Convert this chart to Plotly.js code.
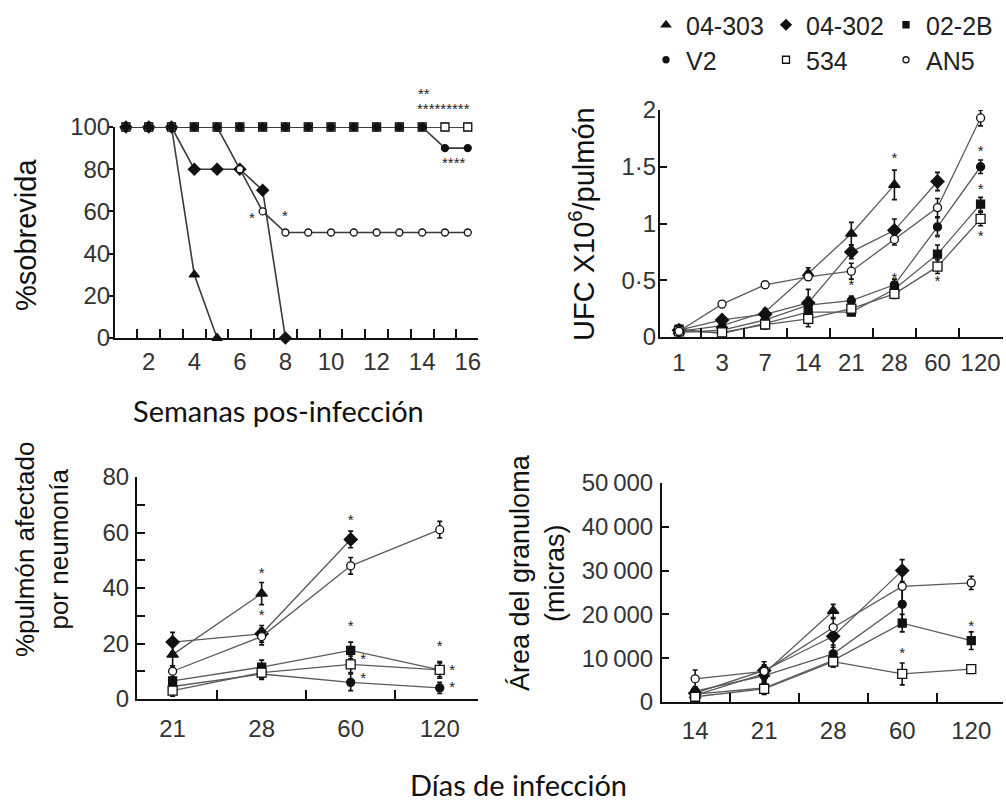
<!DOCTYPE html>
<html><head><meta charset="utf-8">
<script src="https://cdn.plot.ly/plotly-3.0.1.min.js"></script>
<style>html,body{margin:0;padding:0;background:#fff}#chart{width:1006px;height:802px}</style>
</head><body><div id="chart"></div>
<script>
// ---------- DATA ----------
const seriesNames = ['04-303','04-302','02-2B','V2','534','AN5'];

// Panel A: survival (%) per week
const weeks = [1,2,3,4,5,6,7,8,9,10,11,12,13,14,15,16];
const surv_04303 = [100,100,100,30,0,null,null,null,null,null,null,null,null,null,null,null];
const surv_04302 = [100,100,100,80,80,80,70,0,null,null,null,null,null,null,null,null];
const surv_022B  = [100,100,100,100,100,100,100,100,100,100,100,100,100,100,100,100];
const surv_V2    = [100,100,100,100,100,100,100,100,100,100,100,100,100,100,90,90];
const surv_534   = [100,100,100,100,100,100,100,100,100,100,100,100,100,100,100,100];
const surv_AN5   = [100,100,100,100,100,80,60,50,50,50,50,50,50,50,50,50];
const survSigX = [6.55, 8, 14.1, 14.95, 15.4];
const survSigY = [57, 58, 116, 109, 83];
const survSigText = ['*','*','**','*********','****'];

// Panel B: UFC x10^6 / pulmón
const daysB = ['1','3','7','14','21','28','60','120'];
const ufc_04303 = [0.05,0.10,0.22,0.56,0.91,1.34,null,null];
const ufc_04302 = [0.06,0.15,0.20,0.30,0.75,0.94,1.37,null];
const ufc_022B  = [0.07,0.03,0.12,0.22,0.22,0.42,0.73,1.17];
const ufc_V2    = [0.04,0.06,0.15,0.28,0.32,0.46,0.97,1.50];
const ufc_534   = [0.05,0.04,0.11,0.16,0.25,0.38,0.62,1.04];
const ufc_AN5   = [0.05,0.29,0.46,0.53,0.58,0.86,1.14,1.93];
const ufcErr_04303 = [0.03,0.02,0.03,0.05,0.10,0.13,null,null];
const ufcErr_04302 = [0.03,0.03,0.03,0.12,0.06,0.10,0.08,null];
const ufcErr_022B  = [0.03,0.02,0.03,0.13,0.03,0.05,0.08,0.06];
const ufcErr_V2    = [0.06,0.03,0.03,0.04,0.04,0.05,0.08,0.06];
const ufcErr_534   = [0.03,0.02,0.04,0.04,0.03,0.04,0.06,0.06];
const ufcErr_AN5   = [0.03,0.03,0.03,0.03,0.07,0.05,0.08,0.07];
const ufcSigX = ['21','28','28','60','60','120','120','120'];
const ufcSigY = [0.45,1.57,0.51,0.86,0.48,1.63,1.29,0.88];

// Panel C: % pulmón afectado por neumonía
const daysC = ['21','28','60','120'];
const neu_04303 = [16,38,null,null];
const neu_04302 = [20.5,23.5,57.5,null];
const neu_022B  = [6.5,11.5,17.5,10.5];
const neu_V2    = [4.5,9,6,4];
const neu_534   = [3,9.5,12.5,10.5];
const neu_AN5   = [10,22.5,48,61];
const neuErr_04303 = [4,4,null,null];
const neuErr_04302 = [3.5,3,3,null];
const neuErr_022B  = [2.5,2.5,3,2.5];
const neuErr_V2    = [2,2,3,2];
const neuErr_534   = [2,2,3,3];
const neuErr_AN5   = [2,3,3,3];
const neuSigX = ['28','28','60','60','60','60','120','120','120'];
const neuSigY = [45,30,64,26,14,7,18.5,10,4];
const neuSigOff = [0,0,0,0,1,1,0,1,1];

// Panel D: área del granuloma (micras)
const daysD = ['14','21','28','60','120'];
const gra_04303 = [1500,6500,20800,null,null];
const gra_04302 = [2000,7200,15000,30000,null];
const gra_022B  = [1800,3200,9500,18000,14000];
const gra_V2    = [2500,6000,11000,22300,null];
const gra_534   = [1200,3000,9200,6400,7500];
const gra_AN5   = [5300,7000,17000,26400,27200];
const graErr_04303 = [1000,1500,1500,null,null];
const graErr_04302 = [1200,2000,2500,2500,null];
const graErr_022B  = [1000,1500,1500,2000,2000];
const graErr_V2    = [1000,1500,2000,3500,null];
const graErr_534   = [800,1200,1200,2500,600];
const graErr_AN5   = [2000,1500,2000,4000,1500];
const graSigX = ['60','120'];
const graSigY = [10800,17000];

// ---------- STYLES ----------
const sty = {
  '04-303': {symbol:'triangle-up', color:'#111', size:10},
  '04-302': {symbol:'diamond', color:'#111', size:10},
  '02-2B':  {symbol:'square', color:'#111', size:8},
  'V2':     {symbol:'circle', color:'#111', size:8},
  '534':    {symbol:'square', color:'#fff', size:9},
  'AN5':    {symbol:'circle', color:'#fff', size:8}
};
const LINE = '#5a5a5a';
function trace(name, x, y, err, xa, ya, opt){
  const s = sty[name];
  opt = opt || {};
  const t = {
    type:'scatter', mode:'lines+markers', name:name, x:x, y:y,
    xaxis:xa, yaxis:ya, showlegend:false, cliponaxis:false,
    line:{color:opt.lineColor || LINE, width:opt.lineWidth || 1.3},
    marker:{symbol:s.symbol, color:s.color, size:s.size - (opt.shrink || 0), line:{color:'#111', width:1.3}}
  };
  if (err) t.error_y = {type:'data', array:err, color:'#111', thickness:1.6, width:2.5};
  return t;
}
const traces = [];
// panel A (draw order keeps filled markers on top of the 100 % line)
[['04-303',surv_04303],['04-302',surv_04302],['AN5',surv_AN5],['02-2B',surv_022B],['534',surv_534],['V2',surv_V2]]
  .forEach(([n,v])=>traces.push(trace(n, weeks, v, null, 'x','y', {lineColor:'#3a3a3a', lineWidth:1.6, shrink:1})));
// panel B
[['04-303',ufc_04303,ufcErr_04303],['04-302',ufc_04302,ufcErr_04302],['02-2B',ufc_022B,ufcErr_022B],['V2',ufc_V2,ufcErr_V2],['534',ufc_534,ufcErr_534],['AN5',ufc_AN5,ufcErr_AN5]]
  .forEach(([n,v,e])=>traces.push(trace(n, daysB, v, e, 'x2','y2')));
// panel C
[['04-303',neu_04303,neuErr_04303],['04-302',neu_04302,neuErr_04302],['02-2B',neu_022B,neuErr_022B],['V2',neu_V2,neuErr_V2],['534',neu_534,neuErr_534],['AN5',neu_AN5,neuErr_AN5]]
  .forEach(([n,v,e])=>traces.push(trace(n, daysC, v, e, 'x3','y3')));
// panel D
[['04-303',gra_04303,graErr_04303],['04-302',gra_04302,graErr_04302],['02-2B',gra_022B,graErr_022B],['V2',gra_V2,graErr_V2],['534',gra_534,graErr_534],['AN5',gra_AN5,graErr_AN5]]
  .forEach(([n,v,e])=>traces.push(trace(n, daysD, v, e, 'x4','y4')));

// significance asterisks (in-range ones as text traces)
const sigFont = {family:'Liberation Sans, Arial, sans-serif', size:15, color:'#222'};
function sig(x, y, text, xa, ya){
  return {type:'scatter', mode:'text', x:x, y:y, text:text, xaxis:xa, yaxis:ya,
    showlegend:false, cliponaxis:false, hoverinfo:'skip', textfont:sigFont, textposition:'middle center'};
}
traces.push(sig(ufcSigX, ufcSigY, ufcSigX.map(()=> '*'), 'x2','y2'));
traces.push(sig(neuSigX, neuSigY, neuSigOff.map(o=> o ? '      *' : '*'), 'x3','y3'));
traces.push(sig(graSigX, graSigY, graSigX.map(()=> '*'), 'x4','y4'));

// legend-only entries
seriesNames.forEach((n,i)=>{
  const s = sty[n];
  traces.push({type:'scatter', mode:'markers', name:n, x:[null], y:[null], xaxis:'x2', yaxis:'y2',
    legend: i < 3 ? 'legend' : 'legend2', showlegend:true,
    marker:{symbol:s.symbol, color:s.color, size:s.size-2, line:{color:'#111', width:1.3}}});
});

// ---------- LAYOUT ----------
const W = 1006, H = 802;
const px = v => v / W, py = v => 1 - v / H;
const tickFont = {family:'Liberation Sans, Arial, sans-serif', size:24, color:'#333'};
const axBase = {showgrid:false, zeroline:false, showline:true, linecolor:'#111', linewidth:2,
  tickcolor:'#111', tickwidth:2, tickfont:tickFont, fixedrange:true, tickangle:0};
const ySurvRange = [0,100];

// asterisks of panel A as annotations (some lie above the axis range -> domain-relative y)
const sigAnn = survSigX.map((x,i)=>({text:survSigText[i], x:x,
  y:(survSigY[i]-ySurvRange[0])/(ySurvRange[1]-ySurvRange[0]), xref:'x', yref:'y domain',
  showarrow:false, xanchor:'center', yanchor:'middle', font:sigFont}));

const legFont = {family:'Liberation Sans, Arial, sans-serif', size:25, color:'#222'};
const layout = {
  width:W, height:H, margin:{l:0,r:0,t:0,b:0,autoexpand:false}, paper_bgcolor:'#fff', plot_bgcolor:'rgba(0,0,0,0)',
  showlegend:true, hovermode:false,
  xaxis: Object.assign({}, axBase, {domain:[px(115), px(478)], anchor:'y', range:[0.52,16.45],
    tickvals:[2,4,6,8,10,12,14,16], ticks:'', ticklabelstandoff:1,
    minor:{tickvals:[1.5,2.5,3.5,4.5,5.5,6.5,7.5,8.5,9.5,10.5,11.5,12.5,13.5,14.5,15.5], ticks:'inside', ticklen:9, tickwidth:2, tickcolor:'#111'}}),
  yaxis: Object.assign({}, axBase, {domain:[py(338), py(127)], anchor:'x', range:ySurvRange,
    tickvals:[0,20,40,60,80,100], ticks:'outside', ticklen:4, ticklabelstandoff:-6}),
  xaxis2: Object.assign({}, axBase, {domain:[px(660), px(1003)], anchor:'y2', type:'category',
    categoryorder:'array', categoryarray:daysB, range:[-0.44,7.52], ticks:'inside', tickson:'boundaries', ticklen:9, ticklabelstandoff:3}),
  yaxis2: Object.assign({}, axBase, {domain:[py(337), py(110)], anchor:'x2', range:[0,2],
    tickvals:[0,0.5,1,1.5,2], ticktext:['0','0·5','1','1·5','2'], ticks:'inside', ticklen:7, ticklabelstandoff:-3}),
  xaxis3: Object.assign({}, axBase, {domain:[px(137), px(478)], anchor:'y3', type:'category',
    categoryorder:'array', categoryarray:daysC, range:[-0.40,3.43], ticks:'inside', tickson:'boundaries', ticklen:9, ticklabelstandoff:7}),
  yaxis3: Object.assign({}, axBase, {domain:[py(699), py(477)], anchor:'x3', range:[0,80],
    tickvals:[0,20,40,60,80], ticks:'inside', ticklen:8, ticklabelstandoff:1,
    minor:{tickvals:[10,30,50,70], ticks:'inside', ticklen:8, tickwidth:2, tickcolor:'#111'}}),
  xaxis4: Object.assign({}, axBase, {domain:[px(662), px(1003)], anchor:'y4', type:'category',
    categoryorder:'array', categoryarray:daysD, range:[-0.48,4.46], ticks:'inside', tickson:'boundaries', ticklen:9, ticklabelstandoff:6}),
  yaxis4: Object.assign({}, axBase, {domain:[py(702), py(483)], anchor:'x4', range:[0,50000],
    tickvals:[0,10000,20000,30000,40000,50000], ticktext:['0','10\u2009000','20\u2009000','30\u2009000','40\u2009000','50\u2009000'],
    ticks:'inside', ticklen:7, ticklabelstandoff:2}),
  legend: {orientation:'h', x:1, xanchor:'right', y:py(25), yanchor:'middle', bgcolor:'rgba(0,0,0,0)',
    font:legFont, entrywidth:75, entrywidthmode:'pixels', itemclick:false},
  legend2: {orientation:'h', x:1, xanchor:'right', y:py(60), yanchor:'middle', bgcolor:'rgba(0,0,0,0)',
    font:legFont, entrywidth:75, entrywidthmode:'pixels', itemclick:false},
  annotations: sigAnn.concat([
    {text:'%sobrevida', xref:'paper', yref:'paper', x:px(26), y:py(235), textangle:-90, showarrow:false,
     xanchor:'center', yanchor:'middle', font:{family:'Liberation Sans, Arial, sans-serif', size:29, color:'#111'}},
    {text:'Semanas pos-infección', xref:'paper', yref:'paper', x:px(278), y:py(410), showarrow:false,
     xanchor:'center', yanchor:'middle', font:{family:'Lato, Noto Sans, sans-serif', size:29, color:'#111'}},
    {text:'UFC X10<sup>6</sup>/pulmón', xref:'paper', yref:'paper', x:px(582), y:py(224), textangle:-90, showarrow:false,
     xanchor:'center', yanchor:'middle', font:{family:'Liberation Sans, Arial, sans-serif', size:29, color:'#111'}},
    {text:'%pulmón afectado<br>por neumonía', xref:'paper', yref:'paper', x:px(42), y:py(550), textangle:-90, showarrow:false,
     xanchor:'center', yanchor:'middle', font:{family:'Liberation Sans, Arial, sans-serif', size:26, color:'#111'}},
    {text:'Área del granuloma<br>(micras)', xref:'paper', yref:'paper', x:px(537), y:py(573), textangle:-90, showarrow:false,
     xanchor:'center', yanchor:'middle', font:{family:'Liberation Sans, Arial, sans-serif', size:27, color:'#111'}},
    {text:'Días de infección', xref:'paper', yref:'paper', x:px(518), y:py(784), showarrow:false,
     xanchor:'center', yanchor:'middle', font:{family:'Lato, Noto Sans, sans-serif', size:29, color:'#111'}}
  ])
};
Plotly.newPlot('chart', traces, layout, {staticPlot:true, displayModeBar:false});
</script></body></html>
